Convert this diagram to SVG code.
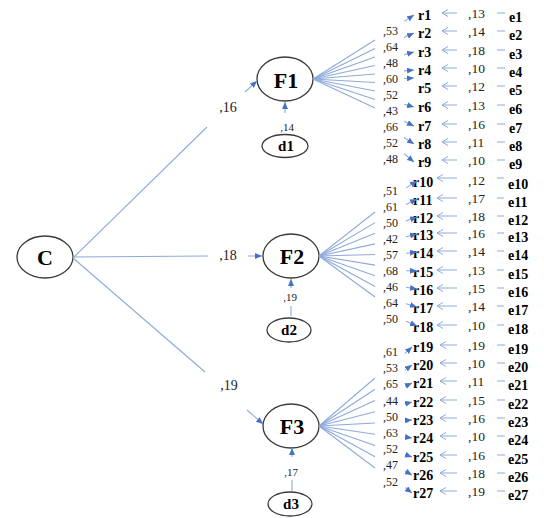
<svg xmlns="http://www.w3.org/2000/svg" width="544" height="518" viewBox="0 0 544 518">
<defs>
<style>
.n{fill:#fff;stroke:#3a3a3a;stroke-width:1.3}
.b{font-family:"Liberation Serif","Times New Roman",serif;font-weight:bold;fill:#000}
.big{font-size:22px;text-anchor:middle}
.sm{font-size:15px;text-anchor:middle}
.r{font-size:14px}
.v{font-family:"Liberation Serif","Times New Roman",serif;fill:#222}
.ld{font-size:12px}
.ev{font-size:13.5px}
.cv{font-size:14px;text-anchor:middle}
.dv{font-size:11px;text-anchor:middle}
.ln{fill:none;stroke:#8eaadb;stroke-width:1.1}
.fa{marker-end:url(#ah)}
.ea{marker-end:url(#oh)}
</style>
<marker id="ah" markerUnits="userSpaceOnUse" markerWidth="7" markerHeight="6" refX="7" refY="3" orient="auto"><path d="M0,0 L7,3 L0,6 z" fill="#4472c4"/></marker>
<marker id="oh" markerUnits="userSpaceOnUse" markerWidth="8" markerHeight="8" refX="6.5" refY="4" orient="auto"><path d="M0.5,0.5 L6.5,4 L0.5,7.5" fill="none" stroke="#8eaadb" stroke-width="1"/></marker>
</defs>
<rect width="544" height="518" fill="#fff"/>
<g id="nodes">
<g id="C"><ellipse class="n" cx="45" cy="257" rx="28" ry="21"/><text class="b big" x="45" y="265">C</text></g>
<g id="F1"><ellipse class="n" cx="285" cy="79" rx="28" ry="22"/><text class="b big" x="286" y="88">F1</text></g>
<g id="F2"><ellipse class="n" cx="291" cy="256" rx="28" ry="22"/><text class="b big" x="292" y="264">F2</text></g>
<g id="F3"><ellipse class="n" cx="291" cy="426" rx="28" ry="22"/><text class="b big" x="292" y="434">F3</text></g>
<g id="d1"><ellipse class="n" cx="285" cy="146" rx="23" ry="11.5"/><text class="b sm" x="286" y="151">d1</text></g>
<g id="d2"><ellipse class="n" cx="289" cy="330" rx="22" ry="12"/><text class="b sm" x="289" y="335">d2</text></g>
<g id="d3"><ellipse class="n" cx="290" cy="504" rx="22" ry="12"/><text class="b sm" x="291" y="509">d3</text></g>
<g id="r1"><text class="b r" x="418" y="19.5">r1</text></g>
<g id="r2"><text class="b r" x="418" y="37.5">r2</text></g>
<g id="r3"><text class="b r" x="418" y="56.5">r3</text></g>
<g id="r4"><text class="b r" x="418" y="74.5">r4</text></g>
<g id="r5"><text class="b r" x="418" y="92.5">r5</text></g>
<g id="r6"><text class="b r" x="418" y="111.5">r6</text></g>
<g id="r7"><text class="b r" x="418" y="130.5">r7</text></g>
<g id="r8"><text class="b r" x="418" y="148.5">r8</text></g>
<g id="r9"><text class="b r" x="418" y="166.5">r9</text></g>
<g id="r10"><text class="b r" x="413" y="186.5">r10</text></g>
<g id="r11"><text class="b r" x="413" y="204.5">r11</text></g>
<g id="r12"><text class="b r" x="413" y="222.5">r12</text></g>
<g id="r13"><text class="b r" x="413" y="239.5">r13</text></g>
<g id="r14"><text class="b r" x="413" y="257.5">r14</text></g>
<g id="r15"><text class="b r" x="413" y="276.5">r15</text></g>
<g id="r16"><text class="b r" x="413" y="294.5">r16</text></g>
<g id="r17"><text class="b r" x="413" y="312.5">r17</text></g>
<g id="r18"><text class="b r" x="413" y="331.5">r18</text></g>
<g id="r19"><text class="b r" x="413" y="351.5">r19</text></g>
<g id="r20"><text class="b r" x="413" y="369.5">r20</text></g>
<g id="r21"><text class="b r" x="413" y="387.5">r21</text></g>
<g id="r22"><text class="b r" x="413" y="406.5">r22</text></g>
<g id="r23"><text class="b r" x="413" y="424.5">r23</text></g>
<g id="r24"><text class="b r" x="413" y="442.5">r24</text></g>
<g id="r25"><text class="b r" x="413" y="461.5">r25</text></g>
<g id="r26"><text class="b r" x="413" y="479.5">r26</text></g>
<g id="r27"><text class="b r" x="413" y="497.5">r27</text></g>
<g id="e1"><text class="b r" x="509" y="22">e1</text></g>
<g id="e2"><text class="b r" x="509" y="40">e2</text></g>
<g id="e3"><text class="b r" x="509" y="59">e3</text></g>
<g id="e4"><text class="b r" x="509" y="77">e4</text></g>
<g id="e5"><text class="b r" x="509" y="95">e5</text></g>
<g id="e6"><text class="b r" x="509" y="114">e6</text></g>
<g id="e7"><text class="b r" x="509" y="133">e7</text></g>
<g id="e8"><text class="b r" x="509" y="151">e8</text></g>
<g id="e9"><text class="b r" x="509" y="169">e9</text></g>
<g id="e10"><text class="b r" x="508" y="189">e10</text></g>
<g id="e11"><text class="b r" x="508" y="207">e11</text></g>
<g id="e12"><text class="b r" x="508" y="225">e12</text></g>
<g id="e13"><text class="b r" x="508" y="242">e13</text></g>
<g id="e14"><text class="b r" x="508" y="260">e14</text></g>
<g id="e15"><text class="b r" x="508" y="279">e15</text></g>
<g id="e16"><text class="b r" x="508" y="297">e16</text></g>
<g id="e17"><text class="b r" x="508" y="315">e17</text></g>
<g id="e18"><text class="b r" x="508" y="334">e18</text></g>
<g id="e19"><text class="b r" x="508" y="354">e19</text></g>
<g id="e20"><text class="b r" x="508" y="372">e20</text></g>
<g id="e21"><text class="b r" x="508" y="390">e21</text></g>
<g id="e22"><text class="b r" x="508" y="409">e22</text></g>
<g id="e23"><text class="b r" x="508" y="427">e23</text></g>
<g id="e24"><text class="b r" x="508" y="445">e24</text></g>
<g id="e25"><text class="b r" x="508" y="464">e25</text></g>
<g id="e26"><text class="b r" x="508" y="482">e26</text></g>
<g id="e27"><text class="b r" x="508" y="500">e27</text></g>
</g>
<g id="connectors" class="ln">
<path class="fa" d="M73,258 L207,127 M245,92 L257,81"/>
<path class="fa" d="M73,257 L208,256 M248,256 L262,256"/>
<path class="fa" d="M73,258 L205,372 M247,410 L263,424"/>
<path class="fa" d="M285,113 L285,102"/>
<path class="fa" d="M291,316 L291,306 M291,288 L291,279"/>
<path class="fa" d="M292,491 L292,480 M292,457 L292,448"/>
<path class="fa" d="M313,79 L375,40 M404,21.4 L414,15"/>
<path class="fa" d="M313,79 L375,48.5 M404,37.6 L414,33"/>
<path class="fa" d="M313,79 L375,57 M404,54.7 L414,52"/>
<path class="fa" d="M313,79 L375,65.5 M404,70.9 L414,70"/>
<path class="fa" d="M313,79 L375,74 M404,78.5 L414,78"/>
<path class="fa" d="M313,79 L375,82.5 M404,104.2 L414,107"/>
<path class="fa" d="M313,79 L375,91 M404,121.3 L414,126"/>
<path class="fa" d="M313,79 L375,99.5 M404,137.5 L414,144"/>
<path class="fa" d="M313,79 L375,108 M404,153.7 L414,162"/>
<path class="fa" d="M319,256 L375,212 M406,187.9 L417,181"/>
<path class="fa" d="M319,256 L375,222.6 M406,204.5 L417,199"/>
<path class="fa" d="M319,256 L375,233.3 M406,221 L417,217"/>
<path class="fa" d="M319,256 L375,243.9 M406,236.7 L417,234"/>
<path class="fa" d="M319,256 L375,254.5 M406,253.2 L417,252"/>
<path class="fa" d="M319,256 L375,265.1 M406,270.7 L417,271"/>
<path class="fa" d="M319,256 L375,275.8 M406,287.3 L417,289"/>
<path class="fa" d="M319,256 L375,286.4 M406,303.8 L417,307"/>
<path class="fa" d="M319,256 L375,297 M406,321.3 L417,326"/>
<path class="fa" d="M319,426 L375,378 M405,353.3 L412,347"/>
<path class="fa" d="M319,426 L375,389.3 M405,369.9 L412,365"/>
<path class="fa" d="M319,426 L375,400.5 M405,386.4 L412,383"/>
<path class="fa" d="M319,426 L375,411.8 M405,403.9 L412,402"/>
<path class="fa" d="M319,426 L375,423 M405,420.5 L412,420"/>
<path class="fa" d="M319,426 L375,434.3 M405,437 L412,438"/>
<path class="fa" d="M319,426 L375,445.5 M405,454.5 L412,457"/>
<path class="fa" d="M319,426 L375,456.8 M405,471 L412,475"/>
<path class="fa" d="M319,426 L375,468 M405,487.6 L412,493"/>
<path class="ea" d="M505,13 L497,13 M457,13 L442,13"/>
<path class="ea" d="M505,31 L497,31 M457,31 L442,31"/>
<path class="ea" d="M505,50 L497,50 M457,50 L442,50"/>
<path class="ea" d="M505,68 L497,68 M457,68 L442,68"/>
<path class="ea" d="M505,86 L497,86 M457,86 L442,86"/>
<path class="ea" d="M505,105 L497,105 M457,105 L442,105"/>
<path class="ea" d="M505,124 L497,124 M457,124 L442,124"/>
<path class="ea" d="M505,142 L497,142 M457,142 L442,142"/>
<path class="ea" d="M505,160 L497,160 M457,160 L442,160"/>
<path class="ea" d="M504,178 L497,178 M457,178 L437,178"/>
<path class="ea" d="M504,198 L497,198 M457,198 L437,198"/>
<path class="ea" d="M504,216 L497,216 M457,216 L437,216"/>
<path class="ea" d="M504,233 L497,233 M457,233 L437,233"/>
<path class="ea" d="M504,251 L497,251 M457,251 L437,251"/>
<path class="ea" d="M504,270 L497,270 M457,270 L437,270"/>
<path class="ea" d="M504,288 L497,288 M457,288 L437,288"/>
<path class="ea" d="M504,306 L497,306 M457,306 L437,306"/>
<path class="ea" d="M504,325 L497,325 M457,325 L437,325"/>
<path class="ea" d="M505,345 L497,345 M457,345 L440,345"/>
<path class="ea" d="M505,363 L497,363 M457,363 L440,363"/>
<path class="ea" d="M505,381 L497,381 M457,381 L440,381"/>
<path class="ea" d="M505,400 L497,400 M457,400 L440,400"/>
<path class="ea" d="M505,418 L497,418 M457,418 L440,418"/>
<path class="ea" d="M505,436 L497,436 M457,436 L440,436"/>
<path class="ea" d="M505,455 L497,455 M457,455 L440,455"/>
<path class="ea" d="M505,473 L497,473 M457,473 L440,473"/>
<path class="ea" d="M505,491 L497,491 M457,491 L440,491"/>
</g>
<g id="labels">
<text class="v cv" x="228" y="112">,16</text>
<text class="v cv" x="228" y="260">,18</text>
<text class="v cv" x="229" y="390">,19</text>
<text class="v dv" x="287" y="131">,14</text>
<text class="v dv" x="290" y="301">,19</text>
<text class="v dv" x="291" y="476">,17</text>
<g class="v ld">
<text x="383" y="35">,53</text><text x="383" y="51">,64</text><text x="383" y="67">,48</text><text x="383" y="83">,60</text><text x="383" y="99">,52</text><text x="383" y="115">,43</text><text x="383" y="131">,66</text><text x="383" y="147">,52</text><text x="383" y="163">,48</text>
<text x="383" y="195">,51</text><text x="383" y="211">,61</text><text x="383" y="227">,50</text><text x="383" y="243">,42</text><text x="383" y="259">,57</text><text x="383" y="275">,68</text><text x="383" y="291">,46</text><text x="383" y="307">,64</text><text x="383" y="323">,50</text>
<text x="383" y="356">,61</text><text x="383" y="372">,53</text><text x="383" y="388">,65</text><text x="383" y="405">,44</text><text x="383" y="421">,50</text><text x="383" y="437">,63</text><text x="383" y="453">,52</text><text x="383" y="469">,47</text><text x="383" y="486">,52</text>
</g>
<g class="v ev">
<text x="468" y="17.5">,13</text><text x="468" y="35.5">,14</text><text x="468" y="54.5">,18</text><text x="468" y="72.5">,10</text><text x="468" y="90.5">,12</text><text x="468" y="109.5">,13</text><text x="468" y="128.5">,16</text><text x="468" y="146.5">,11</text><text x="468" y="164.5">,10</text>
<text x="468" y="184.5">,12</text><text x="468" y="202.5">,17</text><text x="468" y="220.5">,18</text><text x="468" y="237.5">,16</text><text x="468" y="255.5">,14</text><text x="468" y="274.5">,13</text><text x="468" y="292.5">,15</text><text x="468" y="310.5">,14</text><text x="468" y="329.5">,10</text>
<text x="468" y="349.5">,19</text><text x="468" y="367.5">,10</text><text x="468" y="385.5">,11</text><text x="468" y="404.5">,15</text><text x="468" y="422.5">,16</text><text x="468" y="440.5">,10</text><text x="468" y="459.5">,16</text><text x="468" y="477.5">,18</text><text x="468" y="495.5">,19</text>
</g>
</g>
</svg>
